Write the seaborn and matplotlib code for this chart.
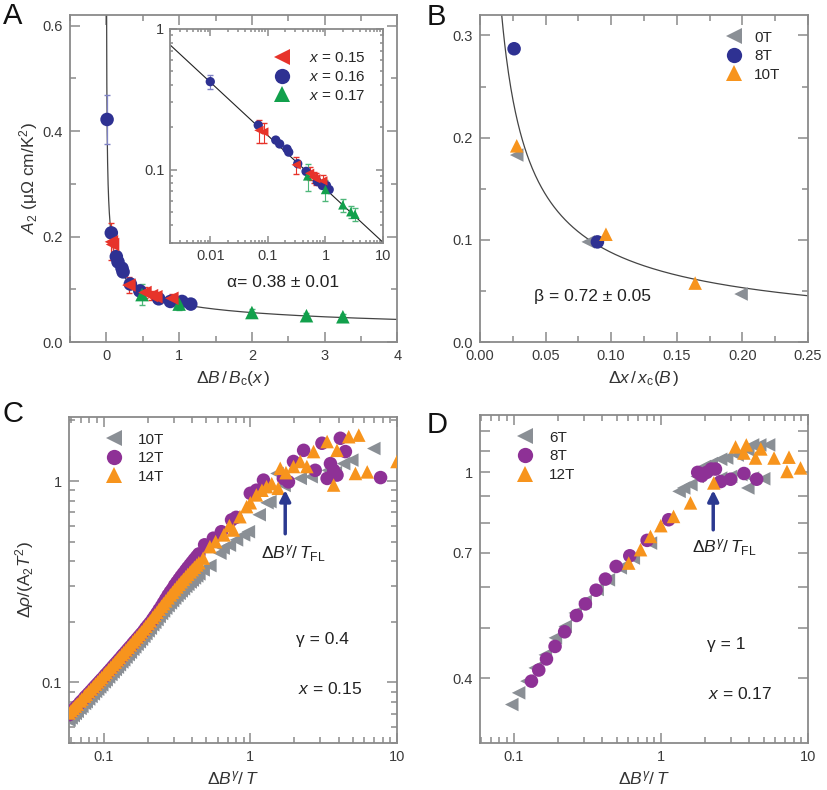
import numpy as np
import pandas as pd
import matplotlib
matplotlib.use('Agg')
import matplotlib.pyplot as plt
import seaborn as sns
from matplotlib.lines import Line2D
from matplotlib.ticker import MultipleLocator, FormatStrFormatter, FixedLocator, FuncFormatter, NullFormatter, LogLocator

# ---- panel A : A2 vs dB/Bc(x) ----
a15_x = [0.07, 0.085, 0.31, 0.53, 0.62, 0.68, 0.90]
a15_y = [0.190, 0.185, 0.108, 0.094, 0.088, 0.086, 0.083]
a15_e = [0.035, 0.030, 0.015, 0.010, 0.008, 0.008, 0.008]

a16_x = [0.01, 0.068, 0.137, 0.16, 0.215, 0.23, 0.33, 0.46, 0.72, 0.88, 1.04, 1.16]
a16_y = [0.422, 0.207, 0.162, 0.152, 0.140, 0.133, 0.110, 0.097, 0.082, 0.077, 0.077, 0.072]
a16_e = [0.047, 0.006, 0.005, 0.005, 0.005, 0.004, 0.004, 0.004, 0.003, 0.003, 0.003, 0.003]

a17_x = [0.49, 1.0, 2.0, 2.75, 3.25]
a17_y = [0.090, 0.072, 0.056, 0.050, 0.048]
a17_e = [0.020, 0.012, 0.006, 0.005, 0.005]

alpha_fit = 0.38
alpha_pref = 0.0727

# ---- panel B : A2 vs dx/xc(B) ----
b0_x = [0.028, 0.0825, 0.199]
b0_y = [0.183, 0.098, 0.047]
b8_x = [0.026, 0.0895]
b8_y = [0.287, 0.098]
b10_x = [0.028, 0.096, 0.164]
b10_y = [0.192, 0.1055, 0.0577]
beta_fit = 0.72
beta_pref = 0.0167

# ---- panel C : x = 0.15 scaling ----
# dense low-T part (shared x grid)
c_band_x = [0.058, 0.060, 0.062, 0.064, 0.066, 0.069, 0.071, 0.074, 0.076, 0.079, 0.082, 0.085,
            0.088, 0.091, 0.094, 0.097, 0.101, 0.104, 0.108, 0.112, 0.116, 0.120, 0.124, 0.128,
            0.133, 0.137, 0.142, 0.147, 0.152, 0.158, 0.163, 0.169, 0.175, 0.181, 0.188, 0.194,
            0.201, 0.208, 0.216, 0.223, 0.231, 0.239, 0.248, 0.256, 0.265, 0.275, 0.285, 0.295,
            0.305, 0.316, 0.327, 0.338, 0.350, 0.363, 0.375, 0.389, 0.402, 0.416, 0.431, 0.446]
c10_band = [0.0649, 0.0666, 0.0684, 0.0701, 0.0718, 0.0743, 0.0760, 0.0786, 0.0802, 0.0827, 0.0852, 0.0877,
            0.0902, 0.0925, 0.0949, 0.0973, 0.1006, 0.1030, 0.1063, 0.1095, 0.1127, 0.1159, 0.1190, 0.1224,
            0.1263, 0.1294, 0.1334, 0.1374, 0.1412, 0.1460, 0.1500, 0.1546, 0.1592, 0.1638, 0.1693, 0.1748,
            0.1803, 0.1858, 0.1932, 0.1987, 0.2052, 0.2125, 0.2199, 0.2263, 0.2337, 0.2406, 0.2481, 0.2548,
            0.2621, 0.2697, 0.2769, 0.2844, 0.2915, 0.2998, 0.3068, 0.3151, 0.3220, 0.3301, 0.3378, 0.3458]
c12_band = [0.0691, 0.0710, 0.0728, 0.0747, 0.0764, 0.0792, 0.0809, 0.0837, 0.0855, 0.0881, 0.0907, 0.0934,
            0.0960, 0.0985, 0.1011, 0.1037, 0.1071, 0.1098, 0.1132, 0.1166, 0.1201, 0.1235, 0.1268, 0.1303,
            0.1346, 0.1379, 0.1421, 0.1463, 0.1504, 0.1555, 0.1597, 0.1646, 0.1695, 0.1744, 0.1803, 0.1862,
            0.1921, 0.1980, 0.2058, 0.2128, 0.2208, 0.2298, 0.2390, 0.2485, 0.2591, 0.2709, 0.2815, 0.2912,
            0.3035, 0.3144, 0.3254, 0.3365, 0.3478, 0.3601, 0.3715, 0.3841, 0.3957, 0.4084, 0.4213, 0.4343]
c14_band = [0.0705, 0.0724, 0.0743, 0.0762, 0.0780, 0.0808, 0.0826, 0.0854, 0.0872, 0.0899, 0.0926, 0.0953,
            0.0980, 0.1005, 0.1032, 0.1058, 0.1093, 0.1120, 0.1155, 0.1190, 0.1225, 0.1260, 0.1294, 0.1330,
            0.1373, 0.1407, 0.1450, 0.1493, 0.1535, 0.1587, 0.1630, 0.1680, 0.1730, 0.1780, 0.1840, 0.1900,
            0.1960, 0.2020, 0.2100, 0.2160, 0.2230, 0.2310, 0.2390, 0.2460, 0.2540, 0.2630, 0.2720, 0.2800,
            0.2890, 0.2980, 0.3070, 0.3160, 0.3250, 0.3350, 0.3440, 0.3540, 0.3630, 0.3730, 0.3830, 0.3930]

# scattered high-T part
c10_x = [0.477, 0.53, 0.62, 0.653, 0.72, 0.805, 0.90, 0.97, 1.15, 1.30, 1.36, 1.52, 1.70, 2.19, 2.60,
         3.40, 3.80, 4.33, 4.92, 6.95]
c10_y = [0.362, 0.380, 0.438, 0.464, 0.480, 0.510, 0.540, 0.560, 0.680, 0.780, 0.790, 1.09, 0.95, 1.03, 1.05,
         1.13, 1.10, 1.22, 1.27, 1.45]
c12_x = [0.488, 0.56, 0.635, 0.745, 0.80, 1.0, 1.10, 1.23, 1.68, 1.82, 1.97, 2.31, 2.77, 3.08,
         3.52, 3.70, 3.34, 3.90, 4.11, 4.45, 7.73]
c12_y = [0.482, 0.520, 0.560, 0.641, 0.660, 0.869, 0.900, 1.01, 1.03, 0.99, 1.25, 1.42, 1.13, 1.54,
         1.22, 1.13, 1.03, 1.07, 1.63, 1.40, 1.04]
c14_x = [0.477, 0.53, 0.58, 0.66, 0.72, 0.766, 0.85, 0.944, 1.0, 1.10, 1.20, 1.29, 1.40, 1.55, 1.60,
         1.75, 1.97, 2.19, 2.43, 2.70, 3.34, 3.90, 4.69, 5.49, 3.70, 5.21, 6.27, 10.0]
c14_y = [0.414, 0.472, 0.500, 0.540, 0.600, 0.571, 0.665, 0.746, 0.780, 0.853, 0.900, 0.937, 0.970, 0.920, 1.156,
         1.10, 1.18, 1.25, 1.18, 1.40, 1.57, 1.42, 1.66, 1.69, 0.955, 1.09, 1.11, 1.25]

# ---- panel D : x = 0.17 scaling ----
d6_x = [0.097, 0.108, 0.123, 0.140, 0.164, 0.192, 0.224, 0.262, 0.306, 0.369, 0.44, 0.53, 0.65, 0.85,
        1.33, 1.43, 1.60, 1.77, 1.98, 2.20, 2.55, 2.80, 3.30, 3.90, 4.20, 4.70, 5.40,
        2.55, 2.98, 3.50, 3.90, 4.20, 5.00]
d6_y = [0.356, 0.375, 0.395, 0.419, 0.444, 0.479, 0.504, 0.535, 0.563, 0.594, 0.620, 0.654, 0.683, 0.730,
        0.919, 0.933, 0.947, 0.982, 1.027, 1.040, 1.060, 1.066, 1.080, 1.105, 1.130, 1.130, 1.130,
        0.975, 0.982, 0.990, 0.933, 0.975, 0.972]
d8_x = [0.132, 0.148, 0.167, 0.191, 0.222, 0.267, 0.307, 0.363, 0.42, 0.497, 0.615, 0.807, 1.13,
        1.78, 1.90, 2.05, 2.20, 2.35, 2.55, 2.98, 3.67, 4.48]
d8_y = [0.395, 0.415, 0.436, 0.461, 0.492, 0.529, 0.557, 0.592, 0.622, 0.658, 0.690, 0.739, 0.810,
        1.000, 0.985, 1.000, 1.015, 1.015, 0.960, 0.970, 0.995, 0.970]
d12_x = [0.605, 0.728, 0.85, 1.0, 1.22, 1.59, 2.29, 3.22, 3.67, 3.81, 4.40, 4.78, 5.88, 7.43, 7.20, 8.90]
d12_y = [0.668, 0.709, 0.752, 0.789, 0.822, 0.873, 0.954, 1.12, 1.09, 1.13, 1.066, 1.11, 1.066, 1.07, 1.004, 1.02]

red, blue, green = '#e7332a', '#2e3192', '#12a04c'
gray, purple, orange = '#8a8f95', '#8e3196', '#f7941d'
navy = '#2b3990'
spine_c = '#8a8a8a'

sns.set_theme(style='ticks')
plt.rcParams['font.family'] = ['Liberation Sans', 'DejaVu Sans']
plt.rcParams['mathtext.fontset'] = 'custom'
plt.rcParams['mathtext.rm'] = 'Liberation Sans'
plt.rcParams['mathtext.it'] = 'Liberation Sans:italic'
plt.rcParams['mathtext.bf'] = 'Liberation Sans:bold'


def style_ax(ax):
    for s in ax.spines.values():
        s.set_color(spine_c)
        s.set_linewidth(1.3)
    ax.tick_params(which='both', direction='in', top=True, right=True, color=spine_c,
                   labelcolor='#3a3a3a', labelsize=10.5, width=1.1)
    ax.tick_params(which='major', length=7, pad=5)
    ax.tick_params(which='minor', length=4)


def num_fmt(v, p):
    return f'{v:g}'


fig = plt.figure(figsize=(8.27, 7.90), dpi=100)
axA = fig.add_axes([0.0846, 0.567, 0.396, 0.414])
axIn = fig.add_axes([0.2056, 0.6924, 0.2576, 0.2709])
axB = fig.add_axes([0.5804, 0.567, 0.3966, 0.414])
axC = fig.add_axes([0.0834, 0.0595, 0.3966, 0.4127])
axD = fig.add_axes([0.5804, 0.0595, 0.3966, 0.415])

# ---------- A ----------
dfA = pd.concat([
    pd.DataFrame({'x': a16_x, 'y': a16_y, 'e': a16_e, 's': 'x=0.16'}),
    pd.DataFrame({'x': a17_x, 'y': a17_y, 'e': a17_e, 's': 'x=0.17'}),
    pd.DataFrame({'x': a15_x, 'y': a15_y, 'e': a15_e, 's': 'x=0.15'}),
])
palA = {'x=0.15': red, 'x=0.16': blue, 'x=0.17': green}
errA = {'x=0.15': red, 'x=0.16': '#7f82c4', 'x=0.17': '#4fb77a'}
mkA = {'x=0.15': '<', 'x=0.16': 'o', 'x=0.17': '^'}

xfit = np.logspace(-3.5, np.log10(4.0), 500)
sns.lineplot(x=xfit, y=alpha_pref * xfit ** -alpha_fit, ax=axA, color='#444444', lw=0.9, sort=False)
for key, g in dfA.groupby('s'):
    axA.errorbar(g['x'], g['y'], yerr=g['e'], fmt='none', ecolor=errA[key], elinewidth=0.9, capsize=2.5, zorder=2)
sns.scatterplot(data=dfA, x='x', y='y', hue='s', style='s', palette=palA, markers=mkA,
                s=95, linewidth=0, legend=False, ax=axA, zorder=3)
axA.set_xlim(-0.5, 4)
axA.set_ylim(0, 0.62)
axA.xaxis.set_major_locator(MultipleLocator(1))
axA.xaxis.set_minor_locator(MultipleLocator(0.5))
axA.yaxis.set_major_locator(MultipleLocator(0.2))
axA.yaxis.set_minor_locator(MultipleLocator(0.1))
axA.yaxis.set_major_formatter(FormatStrFormatter('%.1f'))
axA.set_xlabel(r'$\Delta B\,/\,B_\mathrm{c}(x\,)$', fontsize=12.5, color='#333333')
axA.set_ylabel(r'$A_2$ (μΩ cm/K$^2$)', fontsize=12.5, color='#333333', labelpad=2)
axA.text(1.66, 0.105, 'α= 0.38 ± 0.01', fontsize=12.5, color='#222222')
style_ax(axA)

# inset
xin = np.logspace(np.log10(0.002), 1, 200)
sns.lineplot(x=xin, y=alpha_pref * xin ** -alpha_fit, ax=axIn, color='#222222', lw=0.8, sort=False)
for key, g in dfA.groupby('s'):
    axIn.errorbar(g['x'], g['y'], yerr=g['e'], fmt='none', ecolor=errA[key], elinewidth=0.8, capsize=2, zorder=2)
sns.scatterplot(data=dfA, x='x', y='y', hue='s', style='s', palette=palA, markers=mkA,
                s=45, linewidth=0, legend=False, ax=axIn, zorder=3)
axIn.set_xscale('log')
axIn.set_yscale('log')
axIn.set_xlim(0.002, 10)
axIn.set_ylim(0.03, 1)
axIn.xaxis.set_major_locator(FixedLocator([0.01, 0.1, 1, 10]))
axIn.xaxis.set_major_formatter(FuncFormatter(num_fmt))
axIn.yaxis.set_major_locator(FixedLocator([0.1, 1]))
axIn.yaxis.set_major_formatter(FuncFormatter(num_fmt))
axIn.xaxis.set_minor_locator(LogLocator(base=10, subs=np.arange(2, 10)))
axIn.yaxis.set_minor_locator(LogLocator(base=10, subs=np.arange(2, 10)))
axIn.xaxis.set_minor_formatter(NullFormatter())
axIn.yaxis.set_minor_formatter(NullFormatter())
axIn.set_xlabel('')
axIn.set_ylabel('')
style_ax(axIn)
axIn.tick_params(which='major', length=5, pad=4)
axIn.tick_params(which='minor', length=2.5)
hA = [Line2D([], [], ls='', marker=mkA[k], color=palA[k], markersize=11, markeredgewidth=0) for k in ['x=0.15', 'x=0.16', 'x=0.17']]
axIn.legend(hA, [r'$x$ = 0.15', r'$x$ = 0.16', r'$x$ = 0.17'], loc='upper right', bbox_to_anchor=(0.97, 0.945),
            frameon=False, fontsize=11, handlelength=1.0, handletextpad=1.3, labelspacing=0.3, borderpad=0.2)

# ---------- B ----------
dfB = pd.concat([
    pd.DataFrame({'x': b0_x, 'y': b0_y, 's': '0T'}),
    pd.DataFrame({'x': b8_x, 'y': b8_y, 's': '8T'}),
    pd.DataFrame({'x': b10_x, 'y': b10_y, 's': '10T'}),
])
palB = {'0T': gray, '8T': blue, '10T': orange}
mkB = {'0T': '<', '8T': 'o', '10T': '^'}
xb = np.linspace(0.0165, 0.25, 400)
sns.lineplot(x=xb, y=beta_pref * xb ** -beta_fit, ax=axB, color='#444444', lw=0.9, sort=False)
sns.scatterplot(data=dfB, x='x', y='y', hue='s', style='s', palette=palB, markers=mkB,
                s=95, linewidth=0, legend=False, ax=axB, zorder=3)
axB.set_xlim(0, 0.25)
axB.set_ylim(0, 0.32)
axB.xaxis.set_major_locator(MultipleLocator(0.05))
axB.xaxis.set_minor_locator(MultipleLocator(0.025))
axB.xaxis.set_major_formatter(FormatStrFormatter('%.2f'))
axB.yaxis.set_major_locator(MultipleLocator(0.1))
axB.yaxis.set_minor_locator(MultipleLocator(0.05))
axB.yaxis.set_major_formatter(FormatStrFormatter('%.1f'))
axB.set_xlabel(r'$\Delta x\,/\,x_\mathrm{c}(B\,)$', fontsize=12.5, color='#333333')
axB.set_ylabel('')
axB.text(0.0415, 0.04, 'β = 0.72 ± 0.05', fontsize=12.5, color='#222222')
style_ax(axB)
hB = [Line2D([], [], ls='', marker=mkB[k], color=palB[k], markersize=11, markeredgewidth=0) for k in ['0T', '8T', '10T']]
axB.legend(hB, ['0T', '8T', '10T'], loc='upper left', bbox_to_anchor=(0.72, 0.985),
           frameon=False, fontsize=11, handlelength=1.0, handletextpad=0.8, labelspacing=0.3, borderpad=0.2)

# ---------- C ----------
dfC = pd.concat([
    pd.DataFrame({'x': c_band_x, 'y': c10_band, 's': '10T'}),
    pd.DataFrame({'x': c10_x, 'y': c10_y, 's': '10T'}),
    pd.DataFrame({'x': c_band_x, 'y': c12_band, 's': '12T'}),
    pd.DataFrame({'x': c12_x, 'y': c12_y, 's': '12T'}),
    pd.DataFrame({'x': c_band_x, 'y': c14_band, 's': '14T'}),
    pd.DataFrame({'x': c14_x, 'y': c14_y, 's': '14T'}),
])
palC = {'10T': gray, '12T': purple, '14T': orange}
mkC = {'10T': '<', '12T': 'o', '14T': '^'}
sns.scatterplot(data=dfC, x='x', y='y', hue='s', style='s', palette=palC, markers=mkC,
                s=95, linewidth=0, legend=False, ax=axC, zorder=3)
axC.set_xscale('log')
axC.set_yscale('log')
axC.set_xlim(0.058, 10)
axC.set_ylim(0.05, 2.08)
axC.xaxis.set_major_locator(FixedLocator([0.1, 1, 10]))
axC.yaxis.set_major_locator(FixedLocator([0.1, 1]))
for a in (axC.xaxis, axC.yaxis):
    a.set_major_formatter(FuncFormatter(num_fmt))
    a.set_minor_locator(LogLocator(base=10, subs=np.arange(2, 10)))
    a.set_minor_formatter(NullFormatter())
axC.set_xlabel(r'$\Delta B^{\gamma}/\,T$', fontsize=12.5, color='#333333')
axC.set_ylabel(r'$\Delta\rho/(\mathrm{A}_2T^2)$', fontsize=12.5, color='#333333')
axC.annotate('', xy=(1.73, 0.93), xytext=(1.73, 0.53),
             arrowprops=dict(arrowstyle='-|>', color=navy, lw=2.5, mutation_scale=16), zorder=5)
axC.text(1.95, 0.41, r'$\Delta B^{\gamma}/\,T_{\mathrm{FL}}$', ha='center', fontsize=12.5, color='#222222')
axC.text(2.05, 0.155, 'γ = 0.4', fontsize=12.5, color='#222222')
axC.text(2.1, 0.088, r'$x$ = 0.15', fontsize=12.5, color='#222222')
style_ax(axC)
hC = [Line2D([], [], ls='', marker=mkC[k], color=palC[k], markersize=11, markeredgewidth=0) for k in ['10T', '12T', '14T']]
axC.legend(hC, ['10T', '12T', '14T'], loc='upper left', bbox_to_anchor=(0.08, 0.985),
           frameon=False, fontsize=11, handlelength=1.0, handletextpad=1.1, labelspacing=0.3, borderpad=0.2)

# ---------- D ----------
dfD = pd.concat([
    pd.DataFrame({'x': d6_x, 'y': d6_y, 's': '6T'}),
    pd.DataFrame({'x': d8_x, 'y': d8_y, 's': '8T'}),
    pd.DataFrame({'x': d12_x, 'y': d12_y, 's': '12T'}),
])
palD = {'6T': gray, '8T': purple, '12T': orange}
mkD = {'6T': '<', '8T': 'o', '12T': '^'}
sns.scatterplot(data=dfD, x='x', y='y', hue='s', style='s', palette=palD, markers=mkD,
                s=95, linewidth=0, legend=False, ax=axD, zorder=3)
axD.set_xscale('log')
axD.set_yscale('log')
axD.set_xlim(0.059, 10)
axD.set_ylim(0.30, 1.29)
axD.xaxis.set_major_locator(FixedLocator([0.1, 1, 10]))
axD.xaxis.set_major_formatter(FuncFormatter(num_fmt))
axD.xaxis.set_minor_locator(LogLocator(base=10, subs=np.arange(2, 10)))
axD.xaxis.set_minor_formatter(NullFormatter())
axD.yaxis.set_major_locator(FixedLocator([0.4, 0.5, 0.6, 0.7, 0.8, 0.9, 1.0, 1.1, 1.2]))
axD.yaxis.set_major_formatter(FuncFormatter(lambda v, p: f'{v:g}' if round(v, 2) in (0.4, 0.7, 1.0) else ''))
axD.yaxis.set_minor_locator(FixedLocator([]))
axD.set_xlabel(r'$\Delta B^{\gamma}/\,T$', fontsize=12.5, color='#333333')
axD.set_ylabel('')
axD.annotate('', xy=(2.27, 0.935), xytext=(2.27, 0.765),
             arrowprops=dict(arrowstyle='-|>', color=navy, lw=2.5, mutation_scale=16), zorder=5)
axD.text(2.68, 0.70, r'$\Delta B^{\gamma}/\,T_{\mathrm{FL}}$', ha='center', fontsize=12.5, color='#222222')
axD.text(2.05, 0.455, 'γ = 1', fontsize=12.5, color='#222222')
axD.text(2.1, 0.365, r'$x$ = 0.17', fontsize=12.5, color='#222222')
style_ax(axD)
hD = [Line2D([], [], ls='', marker=mkD[k], color=palD[k], markersize=11, markeredgewidth=0) for k in ['6T', '8T', '12T']]
axD.legend(hD, ['6T', '8T', '12T'], loc='upper left', bbox_to_anchor=(0.08, 0.985),
           frameon=False, fontsize=11, handlelength=1.0, handletextpad=1.1, labelspacing=0.3, borderpad=0.2)

# panel letters
fig.text(0.004, 0.9696, 'A', fontsize=21, color='#111111')
fig.text(0.516, 0.9685, 'B', fontsize=21, color='#111111')
fig.text(0.003, 0.466, 'C', fontsize=21, color='#111111')
fig.text(0.516, 0.452, 'D', fontsize=21, color='#111111')

fig.savefig('out.png', dpi=100)
